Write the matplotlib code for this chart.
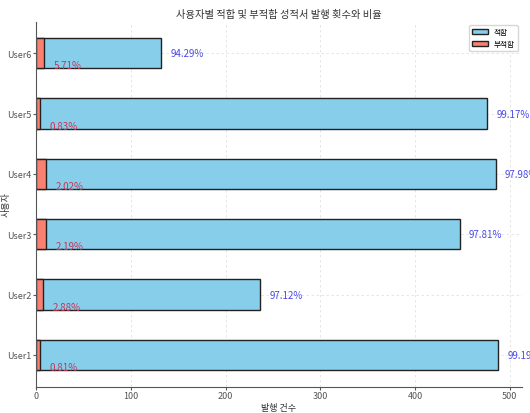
import matplotlib
matplotlib.use("Agg")
import matplotlib.pyplot as plt
import numpy as np

plt.rcParams['font.family'] = ['Noto Sans CJK KR', 'DejaVu Sans']

users = ["User1", "User2", "User3", "User4", "User5", "User6"]
passed = [488, 236, 447, 485, 476, 132]
failed = [4, 7, 10, 10, 4, 8]

totals = [p + f for p, f in zip(passed, failed)]
pass_rate = [p / t * 100 for p, t in zip(passed, totals)]
fail_rate = [f / t * 100 for f, t in zip(failed, totals)]

fig = plt.figure(figsize=(5.3, 4.14), dpi=100)
ax = fig.add_axes([0.0685, 0.064, 0.9155, 0.8815])

y = np.arange(len(users))
ax.barh(y, passed, height=0.5, color="skyblue", edgecolor="#222222", linewidth=1, label="적합")
ax.barh(y, failed, height=0.5, color="salmon", edgecolor="#222222", linewidth=1, label="부적합")

for i in range(len(users)):
    ax.text(passed[i] + 10, y[i], f"{pass_rate[i]:.2f}%", color="#4a4ae6",
            va="center", ha="left", fontsize=7)
    ax.text(failed[i] + 10, y[i] - 0.2, f"{fail_rate[i]:.2f}%", color="#cc3355",
            va="center", ha="left", fontsize=7)

ax.set_yticks(y)
ax.set_yticklabels(users)
ax.set_title("사용자별 적합 및 부적합 성적서 발행 횟수와 비율", fontsize=7.4, color="#333333", pad=3)
ax.set_xlabel("발행 건수", fontsize=6.5, color="#333333", labelpad=2)
ax.set_ylabel("사용자", fontsize=6.5, color="#333333")
ax.yaxis.set_label_coords(-0.053, 0.5)
ax.tick_params(labelsize=6.5, colors="#555555", length=2, pad=1.5)
ax.grid(True, linestyle=(0, (3, 3)), color="#e2e2e2", linewidth=0.6)
ax.set_axisbelow(True)
for s in ["top", "right"]:
    ax.spines[s].set_visible(False)
for s in ["left", "bottom"]:
    ax.spines[s].set_color("#555555")
ax.legend(loc="upper right", fontsize=5.5, handlelength=2, frameon=True)

fig.savefig("out.png", dpi=100)
